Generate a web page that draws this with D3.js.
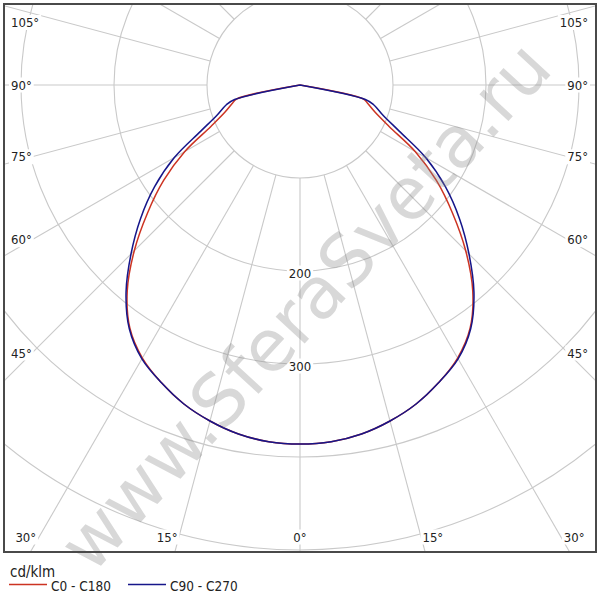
<!DOCTYPE html>
<html>
<head>
<meta charset="utf-8">
<script src="https://cdn.jsdelivr.net/npm/d3@7/dist/d3.min.js"></script>
<style>
  html, body { margin: 0; padding: 0; background: #fff; }
  svg { display: block; }
  text { font-family: 'DejaVu Sans Condensed', 'DejaVu Sans', sans-serif; font-stretch: condensed; }
</style>
</head>
<body>
<svg id="chart" width="600" height="600"></svg>
<script>
// ---- data ----
const gammaDeg = [0, 5, 10, 15, 20, 25, 30, 35, 40, 45, 50, 55, 60, 65, 70, 75, 77.5, 80, 85, 90];
const c0c180   = [386, 385, 381, 374, 365, 353, 339, 319, 289, 252, 214, 179, 143, 106, 86, 75, 70, 0, 0, 0];
const c90c270  = [386, 385, 381, 374, 365, 353, 340, 320, 291, 257, 224, 191, 156, 118, 95, 82, 72, 0, 0, 0];
const ringValues = [100, 200, 300, 400, 500, 600];
const ringLabels = [200, 300];
const sideAngleLabels = [45, 60, 75, 90, 105];
const bottomAngleLabels = [0, 15, 30];
const seriesNames = ["C0 - C180", "C90 - C270"];
const unitLabel = "cd/klm";
const watermark = "www.SferaSveta.ru";

// ---- layout ----
const W = 600, H = 600;
const frame = {x0: 4, y0: 4, x1: 596, y1: 552};
const cx = 300, cy = 85;
const r = d3.scaleLinear().domain([0, 100]).range([0, 93]);
const rad = d => d * Math.PI / 180;
const gridColor = "#c9c9c9";
const colors = ["#cc3322", "#16168a"];

const svg = d3.select("#chart");
svg.append("rect").attr("width", W).attr("height", H).attr("fill", "#fff");

svg.append("clipPath").attr("id", "clip")
  .append("rect")
  .attr("x", frame.x0 + 1).attr("y", frame.y0 + 1)
  .attr("width", frame.x1 - frame.x0 - 2).attr("height", frame.y1 - frame.y0 - 2);

const plot = svg.append("g").attr("clip-path", "url(#clip)");
const g = plot.append("g").attr("transform", `translate(${cx},${cy})`);

const pt = (gam, val) => [Math.sin(rad(gam)) * r(val), Math.cos(rad(gam)) * r(val)];

// rings
g.selectAll("circle.ring").data(ringValues).enter().append("circle")
  .attr("class", "ring")
  .attr("r", d => r(d))
  .attr("fill", "none").attr("stroke", gridColor).attr("stroke-width", 1.1);

// spokes
const spokes = d3.range(0, 360, 15);
g.selectAll("line.spoke").data(spokes).enter().append("line")
  .attr("class", "spoke")
  .attr("x1", d => pt(d, ringValues[0])[0]).attr("y1", d => pt(d, ringValues[0])[1])
  .attr("x2", d => pt(d, 800)[0]).attr("y2", d => pt(d, 800)[1])
  .attr("stroke", gridColor).attr("stroke-width", 1.1);

function bgText(parent, x, y, txt, anchor, size) {
  const gg = parent.append("g");
  const bg = gg.append("rect").attr("fill", "#fff");
  const t = gg.append("text").attr("x", x).attr("y", y)
    .attr("text-anchor", anchor).attr("dominant-baseline", "central")
    .attr("font-size", size).attr("fill", "#222").text(txt);
  const b = t.node().getBBox();
  bg.attr("x", b.x - 2).attr("y", b.y).attr("width", b.width + 4).attr("height", b.height);
  return gg;
}

const labelLayer = plot.append("g");
ringLabels.forEach(v => {
  bgText(labelLayer, cx, cy + r(v) + 2, String(v), "middle", 13);
});

sideAngleLabels.forEach(a => {
  const xin = 32;
  const dx = cx - xin;
  let y = cy + dx / Math.tan(rad(a));
  if (a === 90) y = cy;
  y = Math.max(y, 22.5);
  bgText(labelLayer, 11, y, a + "°", "start", 13);
  bgText(labelLayer, 588, y, a + "°", "end", 13);
});
bottomAngleLabels.forEach(a => {
  const yb = 542;
  const xoff = (yb - cy) * Math.tan(rad(a));
  if (a === 0) {
    bgText(labelLayer, cx, 537, "0°", "middle", 13);
  } else {
    bgText(labelLayer, cx - xoff, 537, a + "°", "end", 13);
    bgText(labelLayer, cx + xoff, 537, a + "°", "start", 13);
  }
});

// curves: one open smooth path from the centre, round through 0°, back to the centre
const line = d3.lineRadial()
  .angle(d => Math.PI - rad(d.g))
  .radius(d => r(d.v))
  .curve(d3.curveCatmullRom.alpha(0.5));
function fullCurve(vals) {
  const idx = gammaDeg.map((_, i) => i).filter(i => vals[i] > 0);
  const last = idx[idx.length - 1] + 1;
  const pts = [{g: -gammaDeg[last], v: vals[last]}];
  for (let k = idx.length - 1; k > 0; k--) pts.push({g: -gammaDeg[idx[k]], v: vals[idx[k]]});
  for (let k = 0; k < idx.length; k++) pts.push({g: gammaDeg[idx[k]], v: vals[idx[k]]});
  pts.push({g: gammaDeg[last], v: vals[last]});
  return pts;
}
[c0c180, c90c270].forEach((vals, i) => {
  g.append("path").attr("d", line(fullCurve(vals)))
    .attr("fill", "none").attr("stroke", colors[i]).attr("stroke-width", 1.5)
    .attr("stroke-linejoin", "round");
});

// watermark
svg.append("text")
  .attr("transform", `translate(305,306) rotate(-47.5)`)
  .attr("text-anchor", "middle").attr("dominant-baseline", "central")
  .attr("font-size", 72)
  .style("font-family", "'DejaVu Sans', sans-serif").style("font-stretch", "normal")
  .attr("fill", "#8a8a8a").attr("fill-opacity", 0.33)
  .text(watermark);

// frame
svg.append("rect")
  .attr("x", frame.x0).attr("y", frame.y0)
  .attr("width", frame.x1 - frame.x0).attr("height", frame.y1 - frame.y0)
  .attr("fill", "none").attr("stroke", "#4a4a4a").attr("stroke-width", 2);

// legend
svg.append("text").attr("x", 10).attr("y", 577).attr("font-size", 15).attr("fill", "#222").text(unitLabel);
const legendX = [[9, 47, 51], [128, 166, 170]];
seriesNames.forEach((name, i) => {
  svg.append("line").attr("x1", legendX[i][0]).attr("x2", legendX[i][1])
    .attr("y1", 584.5).attr("y2", 584.5).attr("stroke", colors[i]).attr("stroke-width", 1.3);
  svg.append("text").attr("x", legendX[i][2]).attr("y", 586)
    .attr("dominant-baseline", "central")
    .attr("font-size", 13.5).attr("fill", "#222").text(name);
});
</script>
</body>
</html>
